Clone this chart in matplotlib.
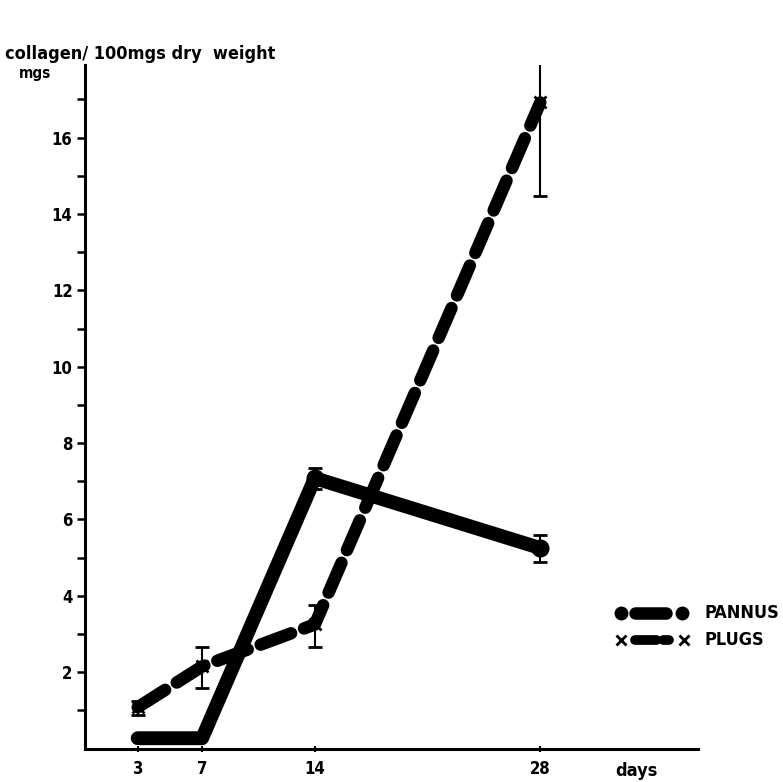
import matplotlib.pyplot as plt

# data
days = [3, 7, 14, 28]
pannus = [0.27, 0.27, 7.08, 5.25]
pannus_err_lo = [0.0, 0.0, 0.28, 0.37]
pannus_err_hi = [0.0, 0.0, 0.27, 0.34]
plugs = [1.08, 2.15, 3.25, 16.92]
plugs_err_lo = [0.2, 0.57, 0.6, 2.45]
plugs_err_hi = [0.17, 0.5, 0.52, 2.5]

y_major = [2, 4, 6, 8, 10, 12, 14, 16]
y_minor = [1, 3, 5, 7, 9, 11, 13, 15, 17]

plt.rcParams['font.family'] = ['DejaVu Sans']
plt.rcParams['font.stretch'] = 'condensed'
plt.rcParams['font.weight'] = 'bold'

fig = plt.figure(figsize=(7.83, 7.82), dpi=100)
ax = fig.add_axes([0.1086, 0.0428, 0.783, 0.874])

# PLUGS: thick rounded dashes with x markers
ax.plot(days, plugs, color='black', lw=9, ls=(0, (2.6, 1.1)),
        dash_capstyle='round', solid_capstyle='round', zorder=2)
ax.plot(days, plugs, 'x', color='black', ms=9, mew=2, zorder=4)
ax.errorbar(days, plugs, yerr=[plugs_err_lo, plugs_err_hi], fmt='none',
            ecolor='black', elinewidth=1.5, capsize=5, capthick=2, zorder=4)

# PANNUS: thick solid line with dots
ax.plot(days, pannus, color='black', lw=10, solid_capstyle='round',
        solid_joinstyle='round', zorder=3)
ax.plot(days[2:], pannus[2:], 'o', color='black', ms=12, zorder=4)
ax.errorbar(days[2:], pannus[2:], yerr=[pannus_err_lo[2:], pannus_err_hi[2:]],
            fmt='none', ecolor='black', elinewidth=1.5, capsize=5, capthick=2,
            zorder=4)

ax.set_xlim(-0.27, 37.8)
ax.set_ylim(0, 17.9)

for s in ['top', 'right']:
    ax.spines[s].set_visible(False)
for s in ['left', 'bottom']:
    ax.spines[s].set_linewidth(2.2)

ax.set_yticks(y_major)
ax.set_yticks(y_minor, minor=True)
ax.set_xticks(days)
ax.set_xticklabels([str(d) for d in days])
ax.tick_params(axis='y', which='both', direction='out', length=6, width=1.8,
               labelsize=12, pad=3)
ax.tick_params(axis='x', direction='inout', length=5, width=1.5,
               labelsize=12, pad=6)

ax.text(34, -0.6, 'days', ha='center', va='center', fontsize=13,
        fontweight='bold', clip_on=False)

fig.text(0.006, 0.931, 'collagen/ 100mgs dry  weight', fontsize=13,
         fontweight='bold', ha='left', va='center')
fig.text(0.024, 0.906, 'mgs', fontsize=11, fontweight='bold',
         ha='left', va='center')

# legend drawn as small samples
ax.plot([33.9, 35.8], [3.55, 3.55], color='black', lw=9,
        solid_capstyle='round', clip_on=False)
ax.plot([33.0, 36.8], [3.55, 3.55], 'o', color='black', ms=9, clip_on=False)
ax.plot([33.9, 36.0], [2.83, 2.83], color='black', lw=7, ls=(0, (2.2, 0.7)),
        dash_capstyle='round', clip_on=False)
ax.plot([33.0, 36.9], [2.83, 2.83], 'x', color='black', ms=7, mew=2,
        clip_on=False)
ax.text(38.2, 3.55, 'PANNUS', fontsize=13, fontweight='bold', va='center',
        clip_on=False)
ax.text(38.2, 2.83, 'PLUGS', fontsize=13, fontweight='bold', va='center',
        clip_on=False)

fig.savefig('out.png', dpi=100)
